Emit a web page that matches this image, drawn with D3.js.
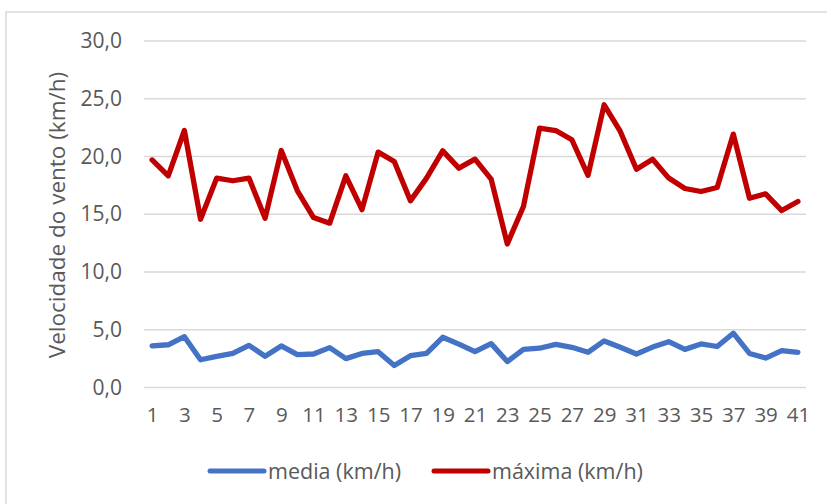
<!DOCTYPE html>
<html><head><meta charset="utf-8">
<script src="https://cdn.jsdelivr.net/npm/d3@7"></script>
<style>body{margin:0;background:#fff}svg{display:block}</style>
</head><body>
<svg id="c" width="827" height="504"></svg>
<script>
const categories = d3.range(1, 42);
const mediaValues = [3.6,3.7,4.4,2.4,2.7,2.95,3.65,2.7,3.6,2.85,2.9,3.45,2.5,2.95,3.1,1.9,2.75,2.95,4.35,3.75,3.1,3.8,2.25,3.3,3.4,3.74,3.48,3.05,4.03,3.48,2.9,3.5,3.97,3.3,3.77,3.55,4.7,2.95,2.55,3.2,3.05];
const maximaValues = [19.7,18.33,22.25,14.57,18.13,17.9,18.13,14.66,20.52,17.03,14.71,14.23,18.33,15.4,20.38,19.57,16.16,18.13,20.49,18.99,19.77,18.04,12.43,15.67,22.46,22.25,21.45,18.37,24.48,22.17,18.9,19.77,18.13,17.23,16.97,17.32,21.94,16.39,16.77,15.32,16.1];
const yTicks = [0,5,10,15,20,25,30];
const seriesNames = ["media (km/h)", "máxima (km/h)"];
const seriesColors = ["#4472C4", "#C00000"];
const yTitle = "Velocidade do vento (km/h)";

const svg = d3.select("#c");
const font = "'Open Sans', sans-serif";
const textColor = "#595959";

svg.append("rect").attr("x",6).attr("y",12).attr("width",840).attr("height",520)
  .attr("fill","#fff").attr("stroke","#D9D9D9").attr("stroke-width",1.5);

const x = d3.scalePoint().domain(categories).range([152.1, 797.9]);
const y = d3.scaleLinear().domain([0,30]).range([387.5, 41]);

// gridlines
svg.append("g").selectAll("line").data(yTicks).join("line")
  .attr("x1",144).attr("x2",806)
  .attr("y1",d=>y(d)).attr("y2",d=>y(d))
  .attr("stroke","#D9D9D9").attr("stroke-width",1.5);

// y axis labels
const yAxis = d3.axisLeft(y).tickValues(yTicks).tickSize(0).tickPadding(0)
  .tickFormat(d => d3.format(".1f")(d).replace(".", ","));
const gy = svg.append("g").attr("transform","translate(122,0)").call(yAxis);
gy.select(".domain").remove();
gy.selectAll("text").attr("font-family",font).attr("font-size",21).attr("fill",textColor);

// x axis labels
const xAxis = d3.axisBottom(x).tickValues(categories.filter(d=>d%2===1)).tickSize(0).tickPadding(0);
const gx = svg.append("g").attr("transform","translate(0,407)").call(xAxis);
gx.select(".domain").remove();
gx.selectAll("text").attr("font-family",font).attr("font-size",20.5).attr("fill",textColor);

// axis title
svg.append("text").attr("transform","translate(65,215) rotate(-90)")
  .attr("text-anchor","middle").attr("font-family",font).attr("font-size",22.5)
  .attr("fill",textColor).text(yTitle);

// lines
const line = d3.line().x((d,i)=>x(categories[i])).y(d=>y(d));
[mediaValues, maximaValues].forEach((vals,k)=>{
  svg.append("path").datum(vals).attr("d",line).attr("fill","none")
    .attr("stroke",seriesColors[k]).attr("stroke-width",5.3)
    .attr("stroke-linejoin","round").attr("stroke-linecap","round");
});

// legend
const legX = [210, 434];
seriesNames.forEach((n,k)=>{
  const g = svg.append("g").attr("transform",`translate(${legX[k]},471)`);
  g.append("line").attr("x1",0).attr("x2",54).attr("stroke",seriesColors[k])
    .attr("stroke-width",5).attr("stroke-linecap","round");
  g.append("text").attr("x",58).attr("y",7.5).attr("font-family",font).attr("font-size",21.5)
    .attr("fill",textColor).text(n);
});
</script>
</body></html>
